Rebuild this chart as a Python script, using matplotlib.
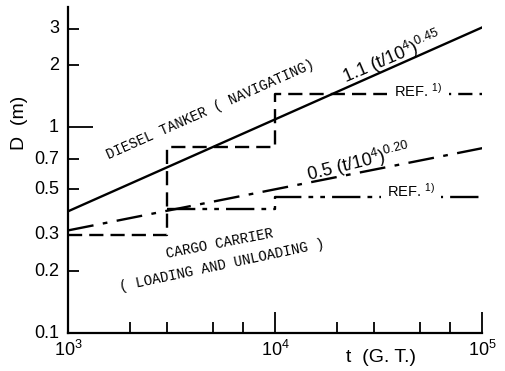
import matplotlib
matplotlib.use("Agg")
import matplotlib.pyplot as plt

# straight lines on log-log axes, given by their end points
t_range = [1e3, 1e5]
tanker_fit = [0.39, 3.05]      # 1.1 (t/10^4)^0.45
cargo_fit = [0.315, 0.79]      # 0.5 (t/10^4)^0.20

# REF. 1) step values
tanker_ref_t = [1e3, 3e3, 1e4, 1e5]
tanker_ref_D = [0.3, 0.8, 1.45, 1.45]
cargo_ref_t = [3e3, 1e4, 1e5]
cargo_ref_D = [0.4, 0.46, 0.46]

y_ticks = [0.1, 0.2, 0.3, 0.5, 0.7, 1, 2, 3]
y_labels = ["0.1", "0.2", "0.3", "0.5", "0.7", "1", "2", "3"]
x_ticks = [1e3, 1e4, 1e5]
x_labels = ["$10^3$", "$10^4$", "$10^5$"]
x_minor = [2e3, 3e3, 5e3, 7e3, 2e4, 3e4, 5e4, 7e4]

plt.rcParams["font.family"] = ["Liberation Sans", "DejaVu Sans"]
plt.rcParams["mathtext.fontset"] = "custom"
plt.rcParams["mathtext.rm"] = "Liberation Sans"
plt.rcParams["mathtext.it"] = "Liberation Sans"

fig = plt.figure(figsize=(5.05, 3.71), dpi=100)
ax = fig.add_axes([0.1347, 0.1024, 0.82, 0.8786])
ax.set_xscale("log")
ax.set_yscale("log")
ax.set_xlim(1e3, 1e5)
ax.set_ylim(0.1, 3.83)

ax.plot(t_range, tanker_fit, color="black", lw=1.7)
ax.plot(t_range, cargo_fit, color="black", lw=1.7, dashes=(11, 4, 2, 4))
ax.plot(tanker_ref_t, tanker_ref_D, color="black", lw=1.7,
        drawstyle="steps-post", dashes=(6, 3))
ax.plot(cargo_ref_t, cargo_ref_D, color="black", lw=1.7,
        drawstyle="steps-post", dashes=(12, 3, 2, 3, 2, 3))

for s in ["top", "right"]:
    ax.spines[s].set_visible(False)
for s in ["left", "bottom"]:
    ax.spines[s].set_linewidth(1.6)

ax.yaxis.set_major_locator(matplotlib.ticker.FixedLocator([0.1, 1]))
ax.yaxis.set_minor_locator(matplotlib.ticker.FixedLocator([0.2, 0.3, 0.5, 0.7, 2, 3]))
ax.yaxis.set_major_formatter(matplotlib.ticker.NullFormatter())
ax.yaxis.set_minor_formatter(matplotlib.ticker.NullFormatter())
for v, lab in zip(y_ticks, y_labels):
    ax.text(-0.022, v, lab, transform=ax.get_yaxis_transform(),
            ha="right", va="center", fontsize=13)

ax.xaxis.set_major_locator(matplotlib.ticker.FixedLocator(x_ticks))
ax.xaxis.set_minor_locator(matplotlib.ticker.FixedLocator(x_minor))
ax.set_xticklabels(x_labels, fontsize=13)
ax.xaxis.set_minor_formatter(matplotlib.ticker.NullFormatter())

ax.tick_params(which="major", direction="in", length=15, width=1.3, pad=5)
ax.tick_params(axis="y", which="major", length=18)
ax.tick_params(which="minor", direction="in", length=8, width=1.3)

ax.text(20 / 505, 1 - 123 / 371, "D  (m)", transform=fig.transFigure,
        rotation=90, ha="center", va="center", fontsize=14)
ax.text(381 / 505, 1 - 357 / 371, "t  (G. T.)", transform=fig.transFigure,
        ha="center", va="center", fontsize=14)

mono = "Liberation Mono"
ax.text(210 / 505, 1 - 110 / 371, "DIESEL TANKER ( NAVIGATING)",
        transform=fig.transFigure, rotation=24, ha="center", va="center",
        family=mono, fontsize=10)
ax.text(392 / 505, 1 - 57 / 371, "1.1 (t/10$^{4}$)$^{0.45}$",
        transform=fig.transFigure, rotation=23, ha="center", va="center",
        fontsize=13)
ax.text(358 / 505, 1 - 162 / 371, "0.5 (t/10$^{4}$)$^{0.20}$",
        transform=fig.transFigure, rotation=14, ha="center", va="center",
        fontsize=13)
ax.text(418 / 505, 1 - 91 / 371, "REF. $^{1)}$", transform=fig.transFigure,
        ha="center", va="center", fontsize=10.5,
        bbox=dict(facecolor="white", edgecolor="none", pad=5))
ax.text(411 / 505, 1 - 191 / 371, "REF. $^{1)}$", transform=fig.transFigure,
        ha="center", va="center", fontsize=10.5,
        bbox=dict(facecolor="white", edgecolor="none", pad=4))
ax.text(220 / 505, 1 - 244 / 371, "CARGO CARRIER", transform=fig.transFigure,
        rotation=11, ha="center", va="center", family=mono, fontsize=10)
ax.text(222 / 505, 1 - 265 / 371, "( LOADING AND UNLOADING )",
        transform=fig.transFigure, rotation=12, ha="center", va="center",
        family=mono, fontsize=10)

fig.savefig("out.png", dpi=100)
